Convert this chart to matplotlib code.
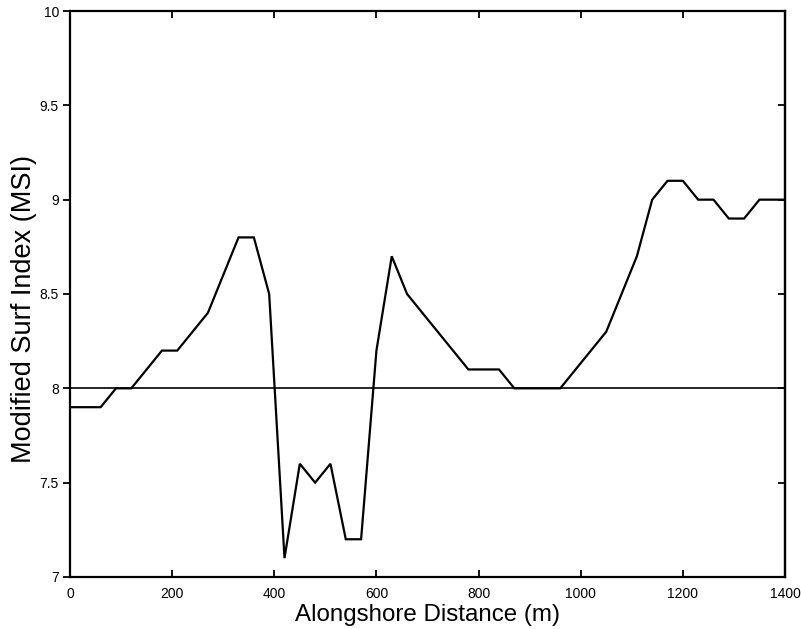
import matplotlib
matplotlib.use("Agg")
import matplotlib.pyplot as plt

# alongshore distance (m) and modified surf index
distance = [0, 30, 60, 90, 120, 150, 180, 210, 240, 270, 300, 330, 360, 390,
            420, 450, 480, 510, 540, 570, 600, 630, 660, 690, 720, 750, 780,
            810, 840, 870, 900, 930, 960, 990, 1020, 1050, 1080, 1110, 1140,
            1170, 1200, 1230, 1260, 1290, 1320, 1350, 1380, 1410]
msi = [7.9, 7.9, 7.9, 8.0, 8.0, 8.1, 8.2, 8.2, 8.3, 8.4, 8.6, 8.8, 8.8, 8.5,
       7.1, 7.6, 7.5, 7.6, 7.2, 7.2, 8.2, 8.7, 8.5, 8.4, 8.3, 8.2, 8.1,
       8.1, 8.1, 8.0, 8.0, 8.0, 8.0, 8.1, 8.2, 8.3, 8.5, 8.7, 9.0,
       9.1, 9.1, 9.0, 9.0, 8.9, 8.9, 9.0, 9.0, 9.0]
threshold = 8.0
xticks = [0, 200, 400, 600, 800, 1000, 1200, 1400]
yticks = [7, 7.5, 8, 8.5, 9, 9.5, 10]
ytick_labels = ["7", "7.5", "8", "8.5", "9", "9.5", "10"]

plt.rcParams["font.family"] = ["Liberation Sans", "DejaVu Sans"]

fig = plt.figure(figsize=(8.01, 6.29), dpi=100)
ax = fig.add_axes([0.0874, 0.0827, 0.8926, 0.8998])

ax.plot(distance, msi, color="black", lw=1.6, solid_joinstyle="miter")
ax.axhline(threshold, color="black", lw=1.2)

ax.set_xlim(0, 1400)
ax.set_ylim(7, 10)
ax.set_xticks(xticks)
ax.set_yticks(yticks)
ax.set_yticklabels(ytick_labels)

for s in ax.spines.values():
    s.set_linewidth(1.6)

ax.tick_params(axis="x", direction="in", top=True, length=5, width=1.3,
               labelsize=10, pad=7)
ax.tick_params(axis="y", direction="out", right=False, length=5, width=1.3,
               labelsize=10, pad=3)

# right-hand ticks point inward, without labels
sec = ax.secondary_yaxis("right")
sec.set_yticks(yticks)
sec.tick_params(direction="in", length=5, width=1.3, labelright=False)
sec.spines["right"].set_linewidth(1.6)

ax.set_xlabel("Alongshore Distance (m)", fontsize=17.4, labelpad=2.5)
ax.set_ylabel("Modified Surf Index (MSI)", fontsize=19.5)
ax.yaxis.set_label_coords(-0.046, 0.473)

fig.savefig("out.png", dpi=100)
